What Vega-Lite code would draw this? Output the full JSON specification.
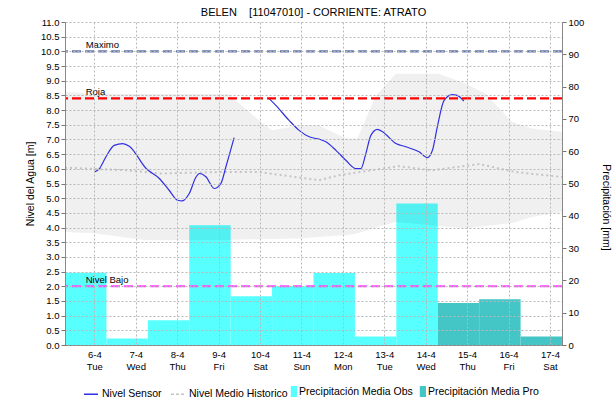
{
  "$schema": "https://vega.github.io/schema/vega-lite/v6.json",
  "width": 497,
  "height": 323,
  "autosize": {"type": "none"},
  "padding": {"left": 65, "top": 22, "right": 54, "bottom": 59},
  "title": {
    "text": "BELEN\u00a0\u00a0\u00a0 [11047010] - CORRIENTE: ATRATO",
    "fontSize": 11,
    "fontWeight": "normal",
    "color": "#000000",
    "anchor": "middle",
    "offset": -1
  },
  "config": {
    "font": "Liberation Sans",
    "view": {"stroke": null},
    "axis": {"labelColor": "#000000", "titleColor": "#000000", "titleFontWeight": "normal", "labelFontSize": 9.5, "labelOverlap": false},
    "axisX": {"ticks": false, "domainColor": "#444444", "domainDash": [1, 1], "labelFlush": false},
    "axisLeft": {"tickSize": 4, "tickColor": "#777777", "domainColor": "#888888"},
    "axisRight": {"grid": false, "tickSize": 4, "tickColor": "#777777", "domainColor": "#888888"},
    "legend": {"labelColor": "#000000"}
  },
  "datasets": {
    "precip": [
      {"ini": "2021-04-05T07:00", "fin": "2021-04-06T07:00", "mm": 22.4, "tipo": "Precipitación Media Obs"},
      {"ini": "2021-04-06T07:00", "fin": "2021-04-07T07:00", "mm": 2.0, "tipo": "Precipitación Media Obs"},
      {"ini": "2021-04-07T07:00", "fin": "2021-04-08T07:00", "mm": 7.7, "tipo": "Precipitación Media Obs"},
      {"ini": "2021-04-08T07:00", "fin": "2021-04-09T07:00", "mm": 37.1, "tipo": "Precipitación Media Obs"},
      {"ini": "2021-04-09T07:00", "fin": "2021-04-10T07:00", "mm": 15.1, "tipo": "Precipitación Media Obs"},
      {"ini": "2021-04-10T07:00", "fin": "2021-04-11T07:00", "mm": 18.2, "tipo": "Precipitación Media Obs"},
      {"ini": "2021-04-11T07:00", "fin": "2021-04-12T07:00", "mm": 22.3, "tipo": "Precipitación Media Obs"},
      {"ini": "2021-04-12T07:00", "fin": "2021-04-13T07:00", "mm": 2.6, "tipo": "Precipitación Media Obs"},
      {"ini": "2021-04-13T07:00", "fin": "2021-04-14T07:00", "mm": 43.8, "tipo": "Precipitación Media Obs"},
      {"ini": "2021-04-14T07:00", "fin": "2021-04-15T07:00", "mm": 13.0, "tipo": "Precipitación Media Pro"},
      {"ini": "2021-04-15T07:00", "fin": "2021-04-16T07:00", "mm": 14.2, "tipo": "Precipitación Media Pro"},
      {"ini": "2021-04-16T07:00", "fin": "2021-04-17T07:00", "mm": 2.6, "tipo": "Precipitación Media Pro"}
    ],
    "banda": [
      {"t": "2021-04-05T07:00", "sup": 8.62, "inf": 3.85},
      {"t": "2021-04-06T00:00", "sup": 8.56, "inf": 3.81},
      {"t": "2021-04-07T06:00", "sup": 8.55, "inf": 3.57},
      {"t": "2021-04-08T00:00", "sup": 8.55, "inf": 3.57},
      {"t": "2021-04-09T06:00", "sup": 8.55, "inf": 3.58},
      {"t": "2021-04-09T12:00", "sup": 8.23, "inf": 3.59},
      {"t": "2021-04-09T23:30", "sup": 7.65, "inf": 3.60},
      {"t": "2021-04-10T07:00", "sup": 7.31, "inf": 3.61},
      {"t": "2021-04-10T22:40", "sup": 7.48, "inf": 3.63},
      {"t": "2021-04-11T10:00", "sup": 7.48, "inf": 3.68},
      {"t": "2021-04-12T01:45", "sup": 7.03, "inf": 3.74},
      {"t": "2021-04-12T08:25", "sup": 7.03, "inf": 3.80},
      {"t": "2021-04-12T19:10", "sup": 8.50, "inf": 4.00},
      {"t": "2021-04-13T06:45", "sup": 9.24, "inf": 4.19},
      {"t": "2021-04-14T07:40", "sup": 9.24, "inf": 4.05},
      {"t": "2021-04-14T23:15", "sup": 8.90, "inf": 3.97},
      {"t": "2021-04-15T10:50", "sup": 8.56, "inf": 4.05},
      {"t": "2021-04-16T02:00", "sup": 7.60, "inf": 4.15},
      {"t": "2021-04-16T13:40", "sup": 7.37, "inf": 4.36},
      {"t": "2021-04-17T07:00", "sup": 7.26, "inf": 4.53}
    ],
    "media": [
      {"t": "2021-04-05T07:00", "nivel": 6.04},
      {"t": "2021-04-06T18:30", "nivel": 5.95},
      {"t": "2021-04-07T13:40", "nivel": 5.84},
      {"t": "2021-04-09T00:20", "nivel": 5.89},
      {"t": "2021-04-09T23:30", "nivel": 5.89},
      {"t": "2021-04-11T10:15", "nivel": 5.61},
      {"t": "2021-04-11T21:50", "nivel": 5.78},
      {"t": "2021-04-13T08:30", "nivel": 6.09},
      {"t": "2021-04-14T03:40", "nivel": 5.95},
      {"t": "2021-04-15T07:00", "nivel": 6.16},
      {"t": "2021-04-16T04:15", "nivel": 5.89},
      {"t": "2021-04-17T07:00", "nivel": 5.72}
    ],
    "sensor": [
      {"t": "2021-04-06T00:00", "nivel": 5.89, "seg": 1},
      {"t": "2021-04-06T03:00", "nivel": 6.01, "seg": 1},
      {"t": "2021-04-06T06:45", "nivel": 6.41, "seg": 1},
      {"t": "2021-04-06T11:30", "nivel": 6.80, "seg": 1},
      {"t": "2021-04-06T16:30", "nivel": 6.86, "seg": 1},
      {"t": "2021-04-06T20:15", "nivel": 6.77, "seg": 1},
      {"t": "2021-04-07T06:00", "nivel": 6.01, "seg": 1},
      {"t": "2021-04-07T13:40", "nivel": 5.67, "seg": 1},
      {"t": "2021-04-07T19:20", "nivel": 5.27, "seg": 1},
      {"t": "2021-04-08T00:15", "nivel": 4.93, "seg": 1},
      {"t": "2021-04-08T03:00", "nivel": 4.91, "seg": 1},
      {"t": "2021-04-08T07:00", "nivel": 5.16, "seg": 1},
      {"t": "2021-04-08T11:00", "nivel": 5.73, "seg": 1},
      {"t": "2021-04-08T13:00", "nivel": 5.84, "seg": 1},
      {"t": "2021-04-08T16:40", "nivel": 5.73, "seg": 1},
      {"t": "2021-04-08T21:30", "nivel": 5.33, "seg": 1},
      {"t": "2021-04-09T01:20", "nivel": 5.50, "seg": 1},
      {"t": "2021-04-09T04:15", "nivel": 6.07, "seg": 1},
      {"t": "2021-04-09T09:00", "nivel": 7.06, "seg": 1},
      {"t": "2021-04-10T05:15", "nivel": 8.39, "seg": 2},
      {"t": "2021-04-10T09:10", "nivel": 8.16, "seg": 2},
      {"t": "2021-04-10T16:50", "nivel": 7.65, "seg": 2},
      {"t": "2021-04-10T22:40", "nivel": 7.31, "seg": 2},
      {"t": "2021-04-11T04:30", "nivel": 7.09, "seg": 2},
      {"t": "2021-04-11T10:15", "nivel": 7.01, "seg": 2},
      {"t": "2021-04-11T14:10", "nivel": 6.92, "seg": 2},
      {"t": "2021-04-11T20:00", "nivel": 6.63, "seg": 2},
      {"t": "2021-04-12T01:45", "nivel": 6.29, "seg": 2},
      {"t": "2021-04-12T07:30", "nivel": 6.01, "seg": 2},
      {"t": "2021-04-12T10:30", "nivel": 6.01, "seg": 2},
      {"t": "2021-04-12T13:20", "nivel": 6.52, "seg": 2},
      {"t": "2021-04-12T16:15", "nivel": 7.14, "seg": 2},
      {"t": "2021-04-12T20:05", "nivel": 7.34, "seg": 2},
      {"t": "2021-04-12T23:00", "nivel": 7.26, "seg": 2},
      {"t": "2021-04-13T06:45", "nivel": 6.86, "seg": 2},
      {"t": "2021-04-13T12:30", "nivel": 6.75, "seg": 2},
      {"t": "2021-04-13T20:10", "nivel": 6.58, "seg": 2},
      {"t": "2021-04-14T01:00", "nivel": 6.38, "seg": 2},
      {"t": "2021-04-14T03:55", "nivel": 6.63, "seg": 2},
      {"t": "2021-04-14T06:45", "nivel": 7.43, "seg": 2},
      {"t": "2021-04-14T10:40", "nivel": 8.33, "seg": 2},
      {"t": "2021-04-14T15:20", "nivel": 8.53, "seg": 2},
      {"t": "2021-04-14T18:15", "nivel": 8.50, "seg": 2},
      {"t": "2021-04-14T22:05", "nivel": 8.31, "seg": 2}
    ],
    "umbrales": [
      {"nombre": "Maximo", "nivel": 10.0},
      {"nombre": "Roja", "nivel": 8.4},
      {"nombre": "Nivel Bajo", "nivel": 2.0}
    ]
  },
  "layer": [
    {
      "data": {"name": "precip"},
      "mark": {"type": "rect"},
      "encoding": {
        "x": {
          "field": "ini",
          "type": "temporal",
          "title": null,
          "scale": {
            "domain": [
              {"year": 2021, "month": 4, "date": 5, "hours": 7},
              {"year": 2021, "month": 4, "date": 17, "hours": 7}
            ],
            "nice": false
          },
          "axis": {
            "title": null,
            "tickCount": {"interval": "day", "step": 1},
            "labelExpr": "[timeFormat(datum.value, '%-d-%-m'), timeFormat(datum.value, '%a')]",
            "labelLineHeight": 12.5,
            "labelPadding": 4,
            "grid": true,
            "gridColor": "#b8b8b8",
            "gridDash": [2, 2],
            "zindex": 1
          }
        },
        "x2": {"field": "fin"},
        "y": {
          "field": "mm",
          "type": "quantitative",
          "title": "Precipitación [mm]",
          "scale": {"domain": [0, 100], "nice": false},
          "axis": {
            "orient": "right",
            "title": "Precipitación [mm]",
            "titleFontSize": 10.5,
            "titleX": 38,
            "titleY": 185,
            "values": [0, 10, 20, 30, 40, 50, 60, 70, 80, 90, 100],
            "grid": false,
            "zindex": 4
          }
        },
        "y2": {"datum": 0},
        "order": {"value": 2},
        "fill": {
          "field": "tipo",
          "type": "nominal",
          "scale": {
            "domain": ["Precipitación Media Obs", "Precipitación Media Pro"],
            "range": ["#58ffff", "#44c6c6"]
          },
          "legend": {
            "orient": "none",
            "legendX": 221,
            "legendY": 364,
            "direction": "horizontal",
            "title": null,
            "labelFontSize": 10.5,
            "labelOffset": 2,
            "columnPadding": 2,
            "symbolType": "M-0.13,-1H1V1H-0.13Z",
            "symbolSize": 121,
            "symbolStrokeWidth": 0,
            "symbolOpacity": 1,
            "encode": {
              "symbols": {
                "update": {
                  "fill": {"signal": "scale('fill', datum.value)"},
                  "fillOpacity": {"value": 1}
                }
              }
            }
          }
        }
      }
    },
    {
      "layer": [
        {
          "data": {"name": "banda"},
          "mark": {"type": "area", "fill": "#000000", "fillOpacity": 0.06},
          "encoding": {
            "x": {"field": "t", "type": "temporal", "title": null},
            "y": {
              "field": "sup",
              "type": "quantitative",
              "title": "Nivel del Agua [m]",
              "scale": {"domain": [0, 11], "nice": false},
              "axis": {
                "orient": "left",
                "title": "Nivel del Agua [m]",
                "titleFontSize": 10.5,
                "titlePadding": 5,
                "values": [0, 0.5, 1, 1.5, 2, 2.5, 3, 3.5, 4, 4.5, 5, 5.5, 6, 6.5, 7, 7.5, 8, 8.5, 9, 9.5, 10, 10.5, 11],
                "format": ".1f",
                "grid": true,
                "gridColor": "#b8b8b8",
                "gridDash": [2, 2],
                "zindex": 1
              }
            },
            "y2": {"field": "inf"},
            "order": {"value": 3}
          }
        },
        {
          "data": {"name": "media"},
          "mark": {"type": "line", "strokeWidth": 2, "strokeDash": [2, 3]},
          "encoding": {
            "x": {"field": "t", "type": "temporal", "title": null},
            "y": {
              "field": "nivel",
              "type": "quantitative",
              "title": "Nivel del Agua [m]",
              "axis": {
                "orient": "left",
                "title": "Nivel del Agua [m]",
                "titleFontSize": 10.5,
                "titlePadding": 5,
                "values": [0, 0.5, 1, 1.5, 2, 2.5, 3, 3.5, 4, 4.5, 5, 5.5, 6, 6.5, 7, 7.5, 8, 8.5, 9, 9.5, 10, 10.5, 11],
                "format": ".1f",
                "grid": true,
                "gridColor": "#b8b8b8",
                "gridDash": [2, 2],
                "zindex": 1
              }
            },
            "order": {"value": 3},
            "stroke": {"datum": "Nivel Medio Historico", "type": "nominal"}
          }
        },
        {
          "data": {"name": "sensor"},
          "mark": {"type": "line", "strokeWidth": 1.2, "interpolate": "monotone"},
          "encoding": {
            "x": {"field": "t", "type": "temporal", "title": null},
            "y": {
              "field": "nivel",
              "type": "quantitative",
              "title": "Nivel del Agua [m]",
              "axis": {
                "orient": "left",
                "title": "Nivel del Agua [m]",
                "titleFontSize": 10.5,
                "titlePadding": 5,
                "values": [0, 0.5, 1, 1.5, 2, 2.5, 3, 3.5, 4, 4.5, 5, 5.5, 6, 6.5, 7, 7.5, 8, 8.5, 9, 9.5, 10, 10.5, 11],
                "format": ".1f",
                "grid": true,
                "gridColor": "#b8b8b8",
                "gridDash": [2, 2],
                "zindex": 1
              }
            },
            "detail": {"field": "seg", "type": "nominal"},
            "order": {"value": 3},
            "stroke": {
              "datum": "Nivel Sensor",
              "type": "nominal",
              "scale": {
                "domain": ["Nivel Sensor", "Nivel Medio Historico"],
                "range": ["#3030e0", "#c4c4c4"]
              },
              "legend": {
                "orient": "none",
                "legendX": 18,
                "legendY": 364,
                "direction": "horizontal",
                "title": null,
                "labelFontSize": 10.5,
                "labelOffset": 3,
                "columnPadding": 6,
                "symbolType": "stroke",
                "symbolSize": 196,
                "symbolStrokeWidth": 1.5,
                "encode": {
                  "symbols": {
                    "update": {
                      "strokeDash": {"signal": "datum.value === 'Nivel Medio Historico' ? [3, 2] : [1, 0]"}
                    }
                  }
                }
              }
            }
          }
        },
        {
          "data": {"name": "umbrales"},
          "mark": {"type": "rule", "strokeWidth": 2.2, "strokeDash": [9, 4]},
          "encoding": {
            "y": {
              "field": "nivel",
              "type": "quantitative",
              "title": "Nivel del Agua [m]",
              "axis": {
                "orient": "left",
                "title": "Nivel del Agua [m]",
                "titleFontSize": 10.5,
                "titlePadding": 5,
                "values": [0, 0.5, 1, 1.5, 2, 2.5, 3, 3.5, 4, 4.5, 5, 5.5, 6, 6.5, 7, 7.5, 8, 8.5, 9, 9.5, 10, 10.5, 11],
                "format": ".1f",
                "grid": true,
                "gridColor": "#b8b8b8",
                "gridDash": [2, 2],
                "zindex": 1
              }
            },
            "order": {"value": 3},
            "color": {
              "field": "nombre",
              "type": "nominal",
              "scale": {
                "domain": ["Maximo", "Roja", "Nivel Bajo"],
                "range": ["#6677aa", "#ff0000", "#ff44ff"]
              },
              "legend": null
            }
          }
        },
        {
          "data": {"name": "umbrales"},
          "mark": {"type": "text", "align": "left", "baseline": "alphabetic", "dy": -3, "fontSize": 9.5, "color": "#000000"},
          "encoding": {
            "x": {"datum": {"year": 2021, "month": 4, "date": 5, "hours": 19}, "type": "temporal", "title": null},
            "y": {
              "field": "nivel",
              "type": "quantitative",
              "title": "Nivel del Agua [m]",
              "axis": {
                "orient": "left",
                "title": "Nivel del Agua [m]",
                "titleFontSize": 10.5,
                "titlePadding": 5,
                "values": [0, 0.5, 1, 1.5, 2, 2.5, 3, 3.5, 4, 4.5, 5, 5.5, 6, 6.5, 7, 7.5, 8, 8.5, 9, 9.5, 10, 10.5, 11],
                "format": ".1f",
                "grid": true,
                "gridColor": "#b8b8b8",
                "gridDash": [2, 2],
                "zindex": 1
              }
            },
            "order": {"value": 3},
            "text": {"field": "nombre"}
          }
        },
        {
          "mark": {"type": "rule", "color": "#e03030", "strokeWidth": 1},
          "encoding": {
            "x": {"datum": {"year": 2021, "month": 4, "date": 15, "hours": 0}, "type": "temporal", "title": null},
            "order": {"value": 3}
          }
        }
      ]
    }
  ],
  "resolve": {"scale": {"y": "independent"}}
}
